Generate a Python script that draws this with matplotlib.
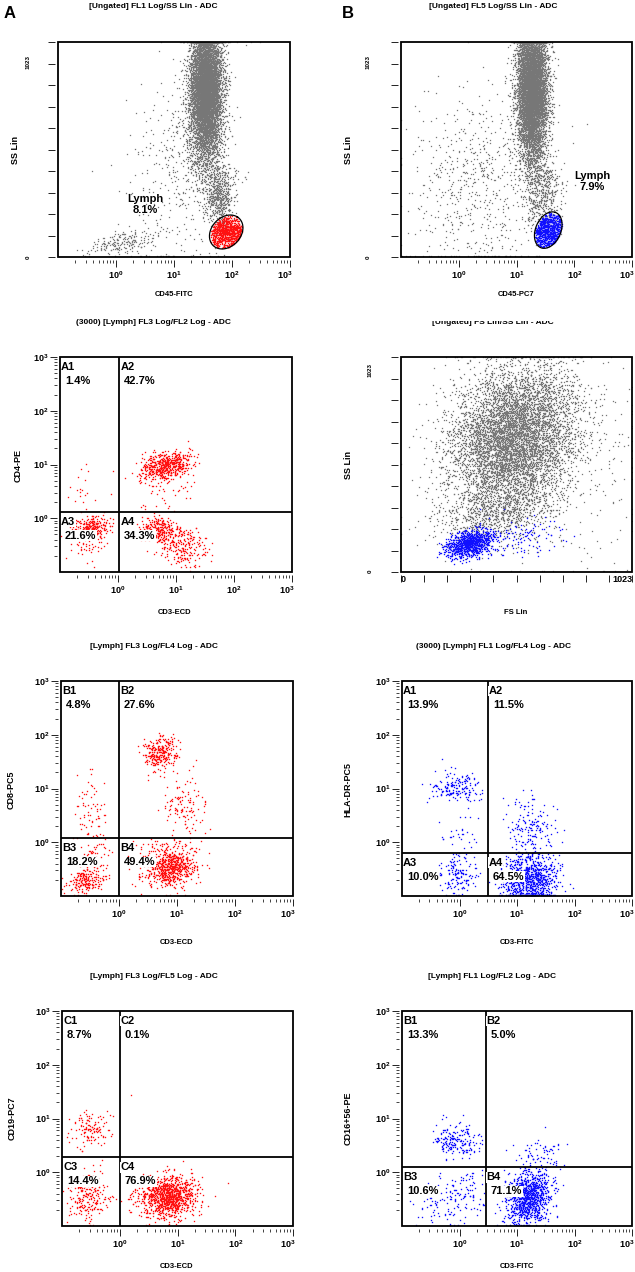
import numpy as np
import matplotlib
matplotlib.use('Agg')
import matplotlib.pyplot as plt
from matplotlib.patches import Rectangle
from matplotlib.ticker import FixedLocator, NullFormatter, LogLocator
from matplotlib.transforms import Bbox, TransformedBbox, ScaledTranslation

plt.rcParams['font.family'] = ['Liberation Sans', 'DejaVu Sans']
plt.rcParams['font.weight'] = 'bold'
plt.rcParams['mathtext.fontset'] = 'custom'
plt.rcParams['mathtext.rm'] = 'Liberation Sans:bold'
plt.rcParams['mathtext.bf'] = 'Liberation Sans:bold'
plt.rcParams['mathtext.default'] = 'rm'

# ---- gate results ----
lymph_pct = [8.1, 7.9]                      # CD45-FITC gate, CD45-PC7 gate
cd4_names = ['A1', 'A2', 'A3', 'A4']
cd4_pct = [1.4, 42.7, 21.6, 34.3]
cd8_names = ['B1', 'B2', 'B3', 'B4']
cd8_pct = [4.8, 27.6, 18.2, 49.4]
cd19_names = ['C1', 'C2', 'C3', 'C4']
cd19_pct = [8.7, 0.1, 14.4, 76.9]
hla_names = ['A1', 'A2', 'A3', 'A4']
hla_pct = [13.9, 11.5, 10.0, 64.5]
nk_names = ['B1', 'B2', 'B3', 'B4']
nk_pct = [13.3, 5.0, 10.6, 71.1]

# quadrant cursor positions (x, y) in fluorescence units
cd4_cross = (1.05, 1.33)
cd8_cross = (1.0, 1.2)
cd19_cross = (1.0, 1.9)
hla_cross = (3.1, 0.64)
nk_cross = (2.86, 1.23)

# population clouds: quadrant, log10 x, log10 y, sd x, sd y, corr, share of quadrant
cd4_clusters = [(0, -0.6, 0.55, 0.17, 0.22, 0.0, 1.0),
                (1, 0.82, 0.98, 0.22, 0.13, 0.35, 0.93),
                (1, 0.80, 0.45, 0.25, 0.20, 0.0, 0.07),
                (2, -0.45, -0.17, 0.16, 0.10, 0.1, 0.85),
                (2, -0.50, -0.50, 0.15, 0.15, 0.0, 0.15),
                (3, 0.70, -0.20, 0.17, 0.11, 0.0, 0.5),
                (3, 1.10, -0.50, 0.22, 0.20, -0.3, 0.5)]
cd8_clusters = [(0, -0.5, 0.6, 0.15, 0.35, 0.0, 1.0),
                (1, 0.70, 1.65, 0.15, 0.16, 0.2, 0.7),
                (1, 1.10, 0.70, 0.20, 0.30, 0.0, 0.3),
                (2, -0.55, -0.70, 0.17, 0.13, 0.2, 0.8),
                (2, -0.40, -0.25, 0.15, 0.20, 0.0, 0.2),
                (3, 0.88, -0.48, 0.22, 0.17, 0.1, 0.9),
                (3, 0.80, -0.10, 0.35, 0.15, 0.0, 0.1)]
cd19_clusters = [(0, -0.5, 0.79, 0.16, 0.16, 0.0, 1.0),
                 (1, 0.15, 1.0, 0.10, 0.30, 0.0, 1.0),
                 (2, -0.55, -0.45, 0.18, 0.22, 0.0, 1.0),
                 (3, 0.84, -0.45, 0.25, 0.20, 0.0, 1.0)]
hla_clusters = [(0, -0.08, 1.03, 0.25, 0.14, 0.0, 0.85),
                (0, 0.00, 0.20, 0.20, 0.30, 0.0, 0.15),
                (1, 1.25, 0.25, 0.22, 0.32, 0.0, 1.0),
                (2, -0.02, -0.58, 0.16, 0.22, 0.0, 1.0),
                (3, 1.22, -0.68, 0.24, 0.28, 0.0, 1.0)]
nk_clusters = [(0, -0.1, 0.58, 0.20, 0.16, 0.0, 1.0),
               (1, 1.4, 0.30, 0.22, 0.18, 0.0, 1.0),
               (2, -0.05, -0.45, 0.30, 0.25, 0.3, 1.0),
               (3, 1.2, -0.45, 0.20, 0.25, 0.2, 1.0)]
quad_events = 1400

# ungated clouds: log10 CD45 (or FS), SS, sd x, sd y, corr, events
cd45_fitc_gray = [(1.55, 790, 0.14, 165, 0.0, 7500),
                  (1.78, 300, 0.13, 80, 0.0, 600),
                  (0.10, 70, 0.30, 30, 0.5, 200),
                  (1.20, 450, 0.45, 250, 0.2, 450)]
cd45_pc7_gray = [(1.27, 790, 0.13, 165, 0.0, 7500),
                 (1.45, 300, 0.15, 90, 0.0, 500),
                 (0.40, 350, 0.60, 230, 0.1, 650)]
fs_ss_gray = [(500, 640, 140, 170, 0.2, 6500),
              (430, 290, 130, 70, 0.4, 700),
              (620, 500, 230, 260, 0.0, 400)]
fs_ss_lymph = [(305, 135, 55, 33, 0.35, 0.88),
               (520, 170, 110, 45, 0.2, 0.12)]
# lymph gates: center (log10 CD45, SS), half axes and tilt (axes fraction, deg)
gate_fitc = (1.90, 119, 0.085, 0.065, 55)
gate_pc7 = (1.55, 128, 0.088, 0.055, 70)

W, H = 635, 1272
fig = plt.figure(figsize=(W / 100, H / 100), dpi=100)
rng = np.random.default_rng(11)

RED = '#ff1010'
BLUE = '#1010ff'
GRAY = '#777777'
LABEL_BOX = dict(fc='white', ec='none', pad=0.3)


def ptext(x, y, s, **kw):
    return fig.text(x / W, 1 - y / H, s, **kw)


def px_axes(x0, y0, x1, y1):
    return fig.add_axes([x0 / W, 1 - y1 / H, (x1 - x0) / W, (y1 - y0) / H])


def cloud(cx, cy, sx, sy, rho, n):
    cov = [[sx * sx, rho * sx * sy], [rho * sx * sy, sy * sy]]
    return rng.multivariate_normal([cx, cy], cov, size=n)


def dots(ax, x, y, color, ms=0.95):
    ax.plot(x, y, 's', ms=ms, mew=0, color=color, rasterized=True)


def frame(ax, xlog, ylog):
    for s in ax.spines.values():
        s.set_visible(False)
    ax.spines['left'].set_position(('outward', 2))
    ax.spines['bottom'].set_position(('outward', 2))
    ax.add_patch(Rectangle((0, 0), 1, 1, transform=ax.transAxes, fill=False,
                           lw=1.3, ec='black', zorder=6, clip_on=False))
    ax.tick_params(which='major', length=5, width=0.7, color='#222222',
                   labelsize=6.5, pad=1.5)
    ax.tick_params(which='minor', length=2.5, width=0.6, color='#222222')
    decades = ['$10^{0}$', '$10^{1}$', '$10^{2}$', '$10^{3}$']
    if xlog:
        ax.set_xscale('log')
        ax.set_xlim(0.1, 1000)
        ax.set_xticks([1, 10, 100, 1000], decades)
        ax.xaxis.set_minor_locator(LogLocator(subs=np.arange(2, 10)))
        ax.xaxis.set_minor_formatter(NullFormatter())
        last = ax.get_xticklabels()[-1]
        last.set_transform(last.get_transform() + ScaledTranslation(-5 / 100, 0, fig.dpi_scale_trans))
    else:
        ax.set_xlim(0, 1023)
        ax.xaxis.set_major_locator(FixedLocator(np.linspace(0, 1023, 11)))
        ax.set_xticklabels([])
    if ylog:
        ax.set_yscale('log')
        ax.set_ylim(0.1, 1000)
        ax.set_yticks([1, 10, 100, 1000], decades)
        ax.yaxis.set_minor_locator(LogLocator(subs=np.arange(2, 10)))
        ax.yaxis.set_minor_formatter(NullFormatter())
    else:
        ax.set_ylim(0, 1023)
        ax.yaxis.set_major_locator(FixedLocator(np.linspace(0, 1023, 11)))
        ax.set_yticklabels([])


def lin_labels(x, ytop, ybot):
    ptext(x, ytop, '1023', rotation=90, fontsize=4.5, ha='center', va='center')
    ptext(x, ybot, '0', rotation=90, fontsize=4.5, ha='center', va='center')


def ungated(ax, clusters, log_x=True):
    pts = np.vstack([cloud(*c[:5], c[5]) for c in clusters])
    lo, hi = (-1, 3) if log_x else (0, 1023)
    pts[:, 0] = np.clip(pts[:, 0], lo, hi)
    pts[:, 1] = np.clip(pts[:, 1], 3, 1021)
    x = 10 ** pts[:, 0] if log_x else pts[:, 0]
    dots(ax, x, pts[:, 1], GRAY, ms=0.9)
    return len(pts)


def gate(ax, g, n, color):
    cx, cy, a, b, ang = g
    fx, fy = (cx + 1) / 4, cy / 1023
    th = np.radians(ang)
    pts = rng.normal(0, 1, size=(n * 4, 2)) * [0.06, 0.06]
    u = pts[:, 0] * np.cos(th) + pts[:, 1] * np.sin(th)
    v = -pts[:, 0] * np.sin(th) + pts[:, 1] * np.cos(th)
    inside = (u / a) ** 2 + (v / b) ** 2 < 0.93
    pts = pts[inside][:n]
    px = fx + pts[:, 0]
    py = fy + pts[:, 1]
    dots(ax, 10 ** (px * 4 - 1), py * 1023, color)
    t = np.linspace(0, 2 * np.pi, 200)
    ex = fx + a * np.cos(t) * np.cos(th) - b * np.sin(t) * np.sin(th)
    ey = fy + a * np.cos(t) * np.sin(th) + b * np.sin(t) * np.cos(th)
    ax.plot(ex, ey, color='black', lw=0.9, transform=ax.transAxes, zorder=5)


def quad_panel(ax, clusters, pcts, names, cross, color):
    lx0, ly0 = np.log10(cross)
    out = []
    for q, cx, cy, sx, sy, rho, share in clusters:
        n = int(round(quad_events * pcts[q] / 100 * share))
        if n == 0:
            continue
        pts = cloud(cx, cy, sx, sy, rho, n * 8 + 40)
        # off-scale events pile up at the axis edges
        pts = np.clip(pts, -0.975, 2.975)
        keep = ((pts[:, 0] > lx0) == (q in (1, 3))) & ((pts[:, 1] > ly0) == (q in (0, 1)))
        out.append(pts[keep][:n])
    pts = 10 ** np.vstack(out)
    dots(ax, pts[:, 0], pts[:, 1], color)
    ax.axvline(cross[0], color='black', lw=1.3, zorder=5)
    ax.axhline(cross[1], color='black', lw=1.3, zorder=5)
    spots = [(0.1, 1000), (cross[0], 1000), (0.1, cross[1]), (cross[0], cross[1])]
    for (x, y), nm, p in zip(spots, names, pcts):
        ax.annotate(nm, (x, y), xytext=(1, -5), textcoords='offset pixels',
                    va='top', ha='left', fontsize=8, zorder=7, bbox=LABEL_BOX)
        ax.annotate(f'{p:.1f}%', (x, y), xytext=(5, -19), textcoords='offset pixels',
                    va='top', ha='left', fontsize=8, zorder=7, bbox=LABEL_BOX)


# ---- row 1: CD45 / SS gating ----
ax = px_axes(58, 42, 290, 257)
frame(ax, True, False)
n_gray = ungated(ax, cd45_fitc_gray)
gate(ax, gate_fitc, int(n_gray * lymph_pct[0] / (100 - lymph_pct[0])), RED)
ax.text(3.16, 250, f'Lymph\n{lymph_pct[0]}%', ha='center', va='center',
        fontsize=8, linespacing=1.1, zorder=7)
lin_labels(28, 62, 257)

ax = px_axes(401, 42, 632, 257)
frame(ax, True, False)
n_gray = ungated(ax, cd45_pc7_gray)
gate(ax, gate_pc7, int(n_gray * lymph_pct[1] / (100 - lymph_pct[1])), BLUE)
ax.text(204, 360, f'Lymph\n{lymph_pct[1]}%', ha='center', va='center',
        fontsize=8, linespacing=1.1, zorder=7)
lin_labels(368, 62, 257)

# ---- row 2 ----
ax = px_axes(60, 357, 292, 572)
frame(ax, True, True)
quad_panel(ax, cd4_clusters, cd4_pct, cd4_names, cd4_cross, RED)

ax = px_axes(401, 357, 632, 572)
frame(ax, False, False)
n_gray = ungated(ax, fs_ss_gray, log_x=False)
n_blue = int(n_gray * lymph_pct[1] / (100 - lymph_pct[1])) + 400
blue = np.vstack([cloud(*c[:5], int(n_blue * c[5])) for c in fs_ss_lymph])
dots(ax, blue[:, 0], np.clip(blue[:, 1], 3, 1021), BLUE)
lin_labels(370, 370, 571)
ptext(403, 580, '0', fontsize=6.5, ha='center', va='center')
ptext(633, 580, '1023', fontsize=6.5, ha='right', va='center')

# ---- row 3 ----
ax = px_axes(61, 681, 293, 896)
frame(ax, True, True)
quad_panel(ax, cd8_clusters, cd8_pct, cd8_names, cd8_cross, RED)

ax = px_axes(402, 681, 632, 896)
frame(ax, True, True)
quad_panel(ax, hla_clusters, hla_pct, hla_names, hla_cross, BLUE)

# ---- row 4 ----
ax = px_axes(62, 1011, 293, 1226)
frame(ax, True, True)
quad_panel(ax, cd19_clusters, cd19_pct, cd19_names, cd19_cross, RED)

ax = px_axes(402, 1011, 632, 1226)
frame(ax, True, True)
quad_panel(ax, nk_clusters, nk_pct, nk_names, nk_cross, BLUE)

# ---- titles and axis labels ----
ptext(10, 14, 'A', fontsize=12, ha='center', va='center')
ptext(348, 13, 'B', fontsize=12, ha='center', va='center')

titles = [(153, 6, '[Ungated] FL1 Log/SS Lin - ADC'),
          (493, 6, '[Ungated] FL5 Log/SS Lin - ADC'),
          (153, 322, '(3000) [Lymph] FL3 Log/FL2 Log - ADC'),
          (154, 646, '[Lymph] FL3 Log/FL4 Log - ADC'),
          (494, 646, '(3000) [Lymph] FL1 Log/FL4 Log - ADC'),
          (154, 976, '[Lymph] FL3 Log/FL5 Log - ADC'),
          (492, 976, '[Lymph] FL1 Log/FL2 Log - ADC')]
for x, y, s in titles:
    ptext(x, y, s, fontsize=6, ha='center', va='center')

# this title is cut off in the source figure
t = ptext(493, 322, '[Ungated] FS Lin/SS Lin - ADC', fontsize=6, ha='center', va='center')
t.set_clip_box(TransformedBbox(Bbox.from_extents(0, 0, 1, 1 - 321 / H), fig.transFigure))
t.set_clip_on(True)

xlabels = [(174, 295, 'CD45-FITC'), (516, 295, 'CD45-PC7'),
           (175, 613, 'CD3-ECD'), (516, 613, 'FS Lin'),
           (177, 943, 'CD3-ECD'), (517, 943, 'CD3-FITC'),
           (177, 1267, 'CD3-ECD'), (517, 1267, 'CD3-FITC')]
for x, y, s in xlabels:
    ptext(x, y, s, fontsize=5.5, ha='center', va='center')

ylabels = [(15, 150, 'SS Lin'), (348, 150, 'SS Lin'),
           (18, 465, 'CD4-PE'), (348, 465, 'SS Lin'),
           (11, 790, 'CD8-PC5'), (348, 790, 'HLA-DR-PC5'),
           (12, 1118, 'CD19-PC7'), (348, 1118, 'CD16+56-PE')]
for x, y, s in ylabels:
    ptext(x, y, s, fontsize=6.5, ha='center', va='center', rotation=90)

fig.savefig('out.png', dpi=100)
